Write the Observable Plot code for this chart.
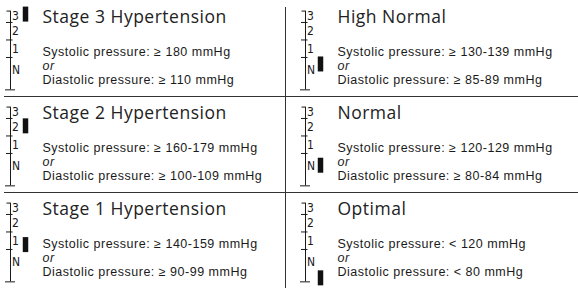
<!DOCTYPE html>
<html>
<head>
<meta charset="utf-8">
<script src="https://cdn.jsdelivr.net/npm/d3@7"></script>
<script src="https://cdn.jsdelivr.net/npm/@observablehq/plot@0.6"></script>
<style>
  html, body { margin: 0; padding: 0; background: #fff; }
  #chart { width: 578px; height: 288px; overflow: hidden; }
  #chart svg { display: block; }
  g[font-size="17.5"] text { letter-spacing: 0.5px; }
  g[font-size="12.5"] text { letter-spacing: 0.5px; }
</style>
</head>
<body>
<div id="chart"></div>
<script>
// ---- data ----
const categories = ["Stage 3 Hypertension", "Stage 2 Hypertension", "Stage 1 Hypertension", "High Normal", "Normal", "Optimal"];
const systolic = ["≥ 180 mmHg", "≥ 160-179 mmHg", "≥ 140-159 mmHg", "≥ 130-139 mmHg", "≥ 120-129 mmHg", "< 120 mmHg"];
const diastolic = ["≥ 110 mmHg", "≥ 100-109 mmHg", "≥ 90-99 mmHg", "≥ 85-89 mmHg", "≥ 80-84 mmHg", "< 80 mmHg"];
const markerLevel = [189, 171, 145, 132, 126, 107];   // systolic mmHg on the mini scale
const tickValues = [193, 180, 160, 140, 103];         // scale ticks (mmHg)
const tickLabels = ["3", "2", "1", "N"];
const tickLabelPos = [187, 170, 150, 125];
const columnOf = [0, 0, 0, 1, 1, 1];
const rowOf = [0, 1, 2, 0, 1, 2];

// ---- layout (pixels inside each panel) ----
const L = {axis: 10, marker: 25, text: 42, divider: 285};
const yDomain = [95.4, 205.1];

const panels = categories.map((c, i) => ({
  title: c,
  sys: "Systolic pressure: " + systolic[i],
  dia: "Diastolic pressure: " + diastolic[i],
  level: markerLevel[i],
  col: columnOf[i],
  row: rowOf[i]
}));
const tickRows = panels.flatMap(p => tickValues.map((v, j) => ({col: p.col, row: p.row, v, j})));
const labelRows = panels.flatMap(p => tickLabels.map((t, j) => ({col: p.col, row: p.row, t, v: tickLabelPos[j]})));
const rows = [0, 1, 2].map(r => ({row: r}));

const ink = "#1a1a1a";
const line = "#333";
const narrow = "'Liberation Sans Narrow', 'DejaVu Sans Condensed', 'Arial Narrow', sans-serif";
const body = "'Liberation Sans', Arial, sans-serif";

const chart = Plot.plot({
  width: 578,
  height: 288,
  margin: 0,
  fx: {domain: [0, 1], range: [0, 590], padding: 0, axis: null},
  fy: {domain: [0, 1, 2], padding: 0, axis: null},
  x: {domain: [0, 295], axis: null},
  y: {domain: yDomain, axis: null},
  marks: [
    // separators
    Plot.ruleY(panels.filter(p => p.row < 2 && p.col === 0), {fx: "col", fy: "row", y: () => yDomain[0], insetLeft: 4, stroke: line}),
    Plot.ruleY(panels.filter(p => p.row < 2 && p.col === 1), {fx: "col", fy: "row", y: () => yDomain[0], stroke: line}),
    Plot.ruleX(rows.filter(r => r.row === 0), {fx: () => 0, fy: "row", x: () => L.divider, insetTop: 7, stroke: line}),
    Plot.ruleX(rows.filter(r => r.row > 0), {fx: () => 0, fy: "row", x: () => L.divider, stroke: line}),
    // mini scale
    Plot.ruleX(panels, {fx: "col", fy: "row", x: () => L.axis, y1: () => tickValues[tickValues.length - 1], y2: () => tickValues[0], stroke: ink}),
    Plot.ruleY(tickRows.filter(d => d.j === 0), {fx: "col", fy: "row", y: "v", x1: () => L.axis - 3.5, x2: () => L.axis, stroke: ink}),
    Plot.ruleY(tickRows.filter(d => d.j > 0 && d.j < tickValues.length - 1), {fx: "col", fy: "row", y: "v", x1: () => L.axis - 4, x2: () => L.axis + 2.5, stroke: ink}),
    Plot.ruleY(tickRows.filter(d => d.j === tickValues.length - 1), {fx: "col", fy: "row", y: "v", x1: () => L.axis - 5, x2: () => L.axis + 5, stroke: ink}),
    Plot.text(labelRows, {fx: "col", fy: "row", x: () => L.axis, y: "v", dx: 1.5, text: "t", textAnchor: "start", fontSize: 12, fontFamily: narrow, fill: ink}),
    // marker
    Plot.ruleX(panels, {fx: "col", fy: "row", x: () => L.marker, y1: "level", y2: "level", insetTop: -7.5, insetBottom: -7.5, strokeWidth: 5.5, stroke: "#111"}),
    // texts
    Plot.text(panels, {fx: "col", fy: "row", x: () => L.text, frameAnchor: "top", dy: 22.5, lineAnchor: "bottom", textAnchor: "start", text: "title", fontSize: 17.5, fontFamily: "'Open Sans', Lato, sans-serif", fontWeight: 400, fill: "#222"}),
    Plot.text(panels, {fx: "col", fy: "row", x: () => L.text, frameAnchor: "top", dy: 55, lineAnchor: "bottom", textAnchor: "start", text: "sys", fontSize: 12.5, fontFamily: body, fill: ink}),
    Plot.text(panels, {fx: "col", fy: "row", x: () => L.text, frameAnchor: "top", dy: 69, lineAnchor: "bottom", textAnchor: "start", text: () => "or", fontSize: 12.5, fontStyle: "italic", fontFamily: body, fill: ink}),
    Plot.text(panels, {fx: "col", fy: "row", x: () => L.text, frameAnchor: "top", dy: 83, lineAnchor: "bottom", textAnchor: "start", text: "dia", fontSize: 12.5, fontFamily: body, fill: ink})
  ]
});
document.getElementById("chart").appendChild(chart);
</script>
</body>
</html>
